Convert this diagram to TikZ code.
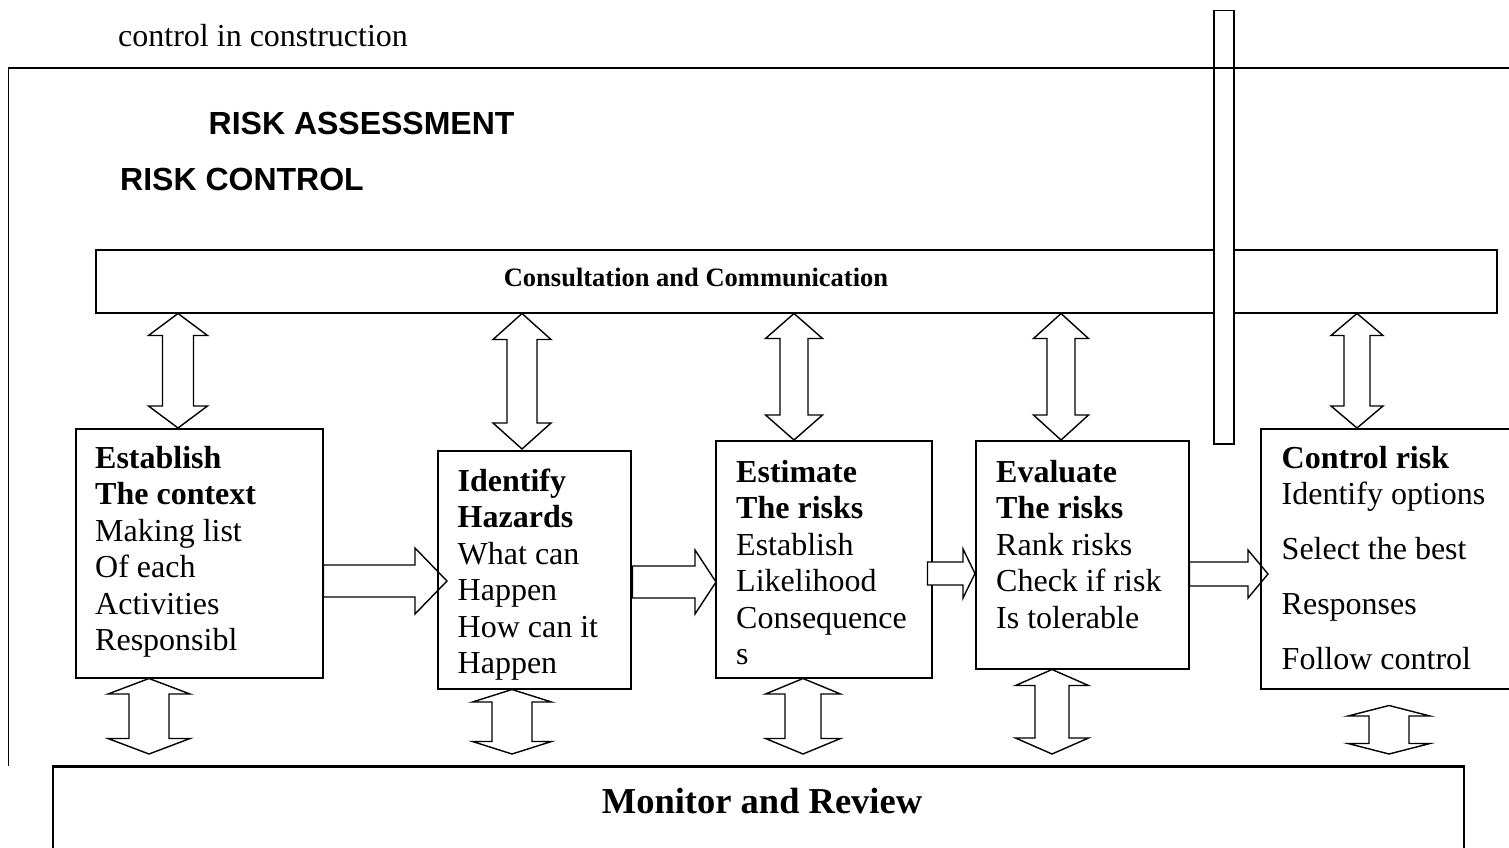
\documentclass[tikz,border=0pt]{standalone}
\usepackage{fontspec}
\setmainfont{Liberation Serif}
\newfontfamily\headfont{Liberation Sans}
\usetikzlibrary{calc}
% vertical double block arrow: #1 top tip, #2 bottom tip, #3 head half width, #4 shaft half width, #5 head length
\newcommand\vdarrow[5]{%
  \draw[blockarrow] (#1) -- ($(#1)+(#3,#5)$) -- ($(#1)+(#4,#5)$) -- ($(#2)+(#4,-#5)$) -- ($(#2)+(#3,-#5)$) -- (#2)
    -- ($(#2)+(-#3,-#5)$) -- ($(#2)+(-#4,-#5)$) -- ($(#1)+(-#4,#5)$) -- ($(#1)+(-#3,#5)$) -- cycle;}
% horizontal block arrow: #1 tail centre, #2 tip, #3 shaft half height, #4 head half height, #5 head length
\newcommand\hrarrow[6][]{%
  \draw[blockarrow,#1] ($(#2)+(0,-#4)$) -- ($(#3)+(-#6,-#4)$) -- ($(#3)+(-#6,-#5)$) -- (#3)
    -- ($(#3)+(-#6,#5)$) -- ($(#3)+(-#6,#4)$) -- ($(#2)+(0,#4)$) -- cycle;}
\tikzset{
  box/.style={draw, line width=1.5pt, inner sep=0pt, anchor=north west},
  blockarrow/.style={draw, line width=1.4pt, line join=miter},
  boxtext/.style={anchor=base west, inner sep=0pt, font=\fontsize{32}{36.5}\selectfont},
}
\begin{document}
\begin{tikzpicture}[x=1pt,y=-1pt]
\useasboundingbox (0,0) rectangle (1509,848);
\clip (0,0) rectangle (1509,848);

% header text and frame lines
\node[anchor=base west, inner sep=0pt, font=\fontsize{32}{38}\selectfont] (title) at (118,47) {control in construction};
\draw[line width=1.2pt] (8,68) -- (1509,68);
\draw[line width=1.8pt] (1116,68) -- (1267,68);
\draw[line width=1.5pt] (8.5,68) -- (8.5,766);

\node[anchor=base west, inner sep=0pt, font=\headfont\bfseries\fontsize{32}{38}\selectfont] (ra) at (208.5,135) {RISK ASSESSMENT};
\node[anchor=base west, inner sep=0pt, font=\headfont\bfseries\fontsize{32}{38}\selectfont] (rc) at (120,190) {RISK CONTROL};

% consultation box and the tall narrow bar
\node[box, minimum width=1401pt, minimum height=63pt] (consult) at (95,249) {};
\node[anchor=base, inner sep=0pt, font=\bfseries\fontsize{26.5}{30}\selectfont] (ctext) at (696,286) {Consultation and Communication};
\node[box, fill=white, minimum width=20pt, minimum height=433pt] (bar) at (1213,10) {};
\draw[line width=1.2pt] (bar.north west |- 0,68) -- (bar.north east |- 0,68);

% process boxes
\node[box, minimum width=247pt, minimum height=249pt] (b1) at (75,428) {};
\node[box, minimum width=193pt, minimum height=238pt] (b2) at (437,450) {};
\node[box, minimum width=216pt, minimum height=237pt] (b3) at (715,440) {};
\node[box, minimum width=213pt, minimum height=228pt] (b4) at (975,440) {};
\node[box, minimum width=265pt, minimum height=260pt] (b5) at (1260,428) {};

\node[boxtext] (t1) at (95,468) {\parbox[t]{240pt}{\textbf{Establish}\\\textbf{The context}\\Making list\\Of each\\Activities\\Responsibl}};
\node[boxtext] (t2) at (457.5,491) {\parbox[t]{240pt}{\textbf{Identify}\\\textbf{Hazards}\\What can\\Happen\\How can it\\Happen}};
\node[boxtext] (t3) at (736,482) {\parbox[t]{240pt}{\textbf{Estimate}\\\textbf{The risks}\\Establish\\Likelihood\\Consequence\\s}};
\node[boxtext] (t4) at (996,482) {\parbox[t]{240pt}{\textbf{Evaluate}\\\textbf{The risks}\\Rank risks\\Check if risk\\Is tolerable}};
\node[boxtext] (t5) at (1281.5,468) {\parbox[t]{260pt}{\textbf{Control risk}\\Identify options\\[18.5pt]Select the best\\[18.5pt]Responses\\[18.5pt]Follow control}};

% monitor box
\node[box, minimum width=1411pt, minimum height=120pt] (mon) at (52,766) {};
\draw[line width=3pt] (mon.north west) -- (mon.north east);
\node[anchor=base, inner sep=0pt, font=\bfseries\fontsize{36.5}{42}\selectfont] (mtext) at (762,813) {Monitor and Review};

% top double arrows (consultation <-> boxes)
\coordinate (u1b) at ($(b1.north west)+(103,0)$);  \coordinate (u1a) at (u1b |- consult.south);
\coordinate (u2b) at ($(b2.north west)+(85,-1)$);  \coordinate (u2a) at (u2b |- consult.south);
\coordinate (u3b) at ($(b3.north west)+(79,0)$);   \coordinate (u3a) at (u3b |- consult.south);
\coordinate (u4b) at ($(b4.north west)+(86,0)$);   \coordinate (u4a) at (u4b |- consult.south);
\coordinate (u5b) at ($(b5.north west)+(97,0)$);   \coordinate (u5a) at (u5b |- consult.south);
\vdarrow{u1a}{u1b}{29.5}{15.5}{22}
\vdarrow{u2a}{u2b}{29}{15}{26}
\vdarrow{u3a}{u3b}{28.5}{14}{25}
\vdarrow{u4a}{u4b}{27.5}{14}{25}
\vdarrow{u5a}{u5b}{26}{13}{22}

% bottom double arrows (boxes <-> monitor)
\coordinate (d1a) at ($(b1.south west)+(74,0)$);   \coordinate (d1b) at ($(d1a |- mon.north)+(0,-12)$);
\coordinate (d2a) at ($(b2.south west)+(75,0)$);   \coordinate (d2b) at ($(d2a |- mon.north)+(0,-12)$);
\coordinate (d3a) at ($(b3.south west)+(88,0)$);   \coordinate (d3b) at ($(d3a |- mon.north)+(0,-12)$);
\coordinate (d4a) at ($(b4.south west)+(77,0)$);   \coordinate (d4b) at ($(d4a |- mon.north)+(0,-12)$);
\coordinate (d5a) at ($(b5.south west)+(129,16)$); \coordinate (d5b) at ($(d5a |- mon.north)+(0,-12)$);
\vdarrow{d1a}{d1b}{41}{20}{15.5}
\vdarrow{d2a}{d2b}{39.5}{20}{12.5}
\vdarrow{d3a}{d3b}{37.5}{18}{15.5}
\vdarrow{d4a}{d4b}{36.5}{17}{16}
\vdarrow{d5a}{d5b}{41}{20}{10.5}

% horizontal arrows between the boxes
\coordinate (r1a) at ($(b1.north east)+(0,153)$);   \coordinate (r1b) at ($(r1a -| b2.west)+(10,0)$);
\coordinate (r2a) at ($(b2.north east)+(1,132)$);   \coordinate (r2b) at ($(r2a -| b3.west)+(1,0)$);
\coordinate (r3a) at ($(b3.north east)+(-5,133.5)$); \coordinate (r3b) at (r3a -| b4.west);
\coordinate (r4a) at ($(b4.north east)+(0,134)$);   \coordinate (r4b) at ($(r4a -| b5.west)+(8,0)$);
\hrarrow{r1a}{r1b}{16}{33}{32}
\hrarrow{r2a}{r2b}{16}{32}{21}
\hrarrow[fill=white]{r3a}{r3b}{11.5}{24.5}{12}
\hrarrow{r4a}{r4b}{12}{24}{20}
\end{tikzpicture}
\end{document}
